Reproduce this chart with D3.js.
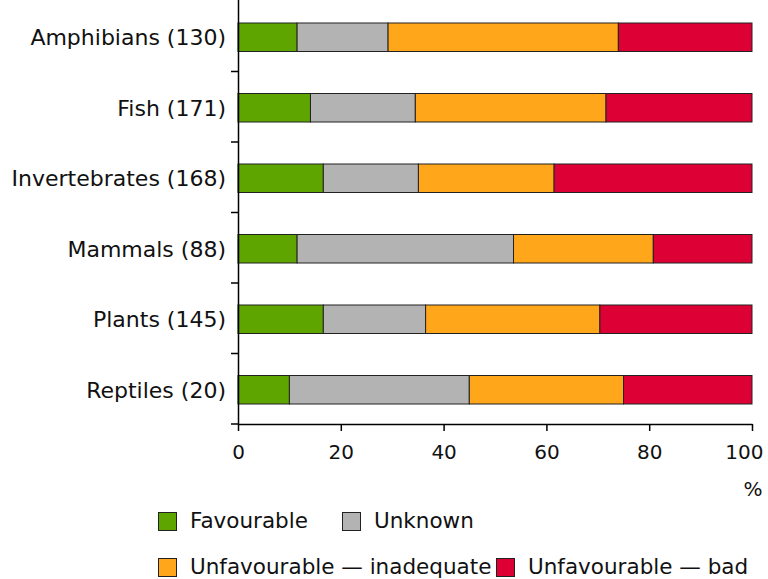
<!DOCTYPE html>
<html>
<head>
<meta charset="utf-8">
<script src="https://cdn.jsdelivr.net/npm/d3@7"></script>
<style>
  body { margin: 0; background: #fff; }
  svg { font-family: "DejaVu Sans", Verdana, sans-serif; }
</style>
</head>
<body>
<div id="chart"></div>
<script>
// categories and their values (%)
const groups = ["Amphibians (130)", "Fish (171)", "Invertebrates (168)", "Mammals (88)", "Plants (145)", "Reptiles (20)"];
const favourable = [11.5, 14.1, 16.6, 11.5, 16.6, 10.0];
const unknown = [17.7, 20.4, 18.5, 42.1, 19.9, 35.0];
const inadequate = [44.8, 37.1, 26.4, 27.2, 33.9, 30.0];
const bad = [26.0, 28.4, 38.5, 19.2, 29.6, 25.0];

const seriesNames = ["Favourable", "Unknown", "Unfavourable \u2014 inadequate", "Unfavourable \u2014 bad"];
const seriesColors = ["#5ea500", "#b3b3b3", "#ffa61a", "#dd0035"];
const xTicks = [0, 20, 40, 60, 80, 100];

let dimensions = {
    width: 768,
    height: 579,
    margin: { top: 1, right: 16, bottom: 155, left: 238 },
}
dimensions.boundedWidth = dimensions.width - dimensions.margin.left - dimensions.margin.right;
dimensions.boundedHeight = dimensions.height - dimensions.margin.top - dimensions.margin.bottom;

const rows = groups.map((g, i) => ({
    group: g,
    Favourable: favourable[i],
    Unknown: unknown[i],
    [seriesNames[2]]: inadequate[i],
    [seriesNames[3]]: bad[i],
}));

const stacked = d3.stack().keys(seriesNames)(rows);

const svg = d3.select("#chart")
    .append("svg")
    .attr("width", dimensions.width)
    .attr("height", dimensions.height);

const g = svg.append("g")
    .attr("transform", `translate(${dimensions.margin.left}, ${dimensions.margin.top})`);

const x = d3.scaleLinear()
    .domain([0, 100])
    .range([0, dimensions.boundedWidth]);

const y = d3.scaleBand()
    .domain(groups)
    .range([0, dimensions.boundedHeight])
    .padding(0);

const color = d3.scaleOrdinal().domain(seriesNames).range(seriesColors);

const barH = 28.5;
const barOff = (y.bandwidth() - barH) / 2 + 1;

// bars
g.append("g")
    .selectAll("g")
    .data(stacked)
    .join("g")
    .attr("fill", d => color(d.key))
    .selectAll("rect")
    .data(d => d)
    .join("rect")
    .attr("x", d => x(d[0]))
    .attr("y", d => y(d.data.group) + barOff)
    .attr("width", d => x(d[1]) - x(d[0]))
    .attr("height", barH)
    .attr("stroke", "#222")
    .attr("stroke-width", 1);

// y axis: line plus ticks at band boundaries
g.append("line")
    .attr("x1", 0.5).attr("x2", 0.5)
    .attr("y1", -1).attr("y2", dimensions.boundedHeight)
    .attr("stroke", "#000").attr("stroke-width", 1.5);

g.append("g")
    .selectAll("line")
    .data(groups)
    .join("line")
    .attr("x1", -7).attr("x2", 0)
    .attr("y1", d => y(d) + y.bandwidth())
    .attr("y2", d => y(d) + y.bandwidth())
    .attr("stroke", "#000").attr("stroke-width", 1.5);

g.append("g")
    .selectAll("text")
    .data(groups)
    .join("text")
    .attr("x", -12)
    .attr("y", d => y(d) + y.bandwidth() / 2 + 1)
    .attr("dy", "0.36em")
    .attr("text-anchor", "end")
    .style("font-size", "22px")
    .attr("fill", "#111")
    .text(d => d);

// x axis
const xAxis = g.append("g")
    .attr("transform", `translate(0, ${dimensions.boundedHeight})`)
    .call(d3.axisBottom(x).tickValues(xTicks).tickSize(7).tickSizeOuter(0).tickPadding(14));

xAxis.select(".domain").attr("stroke", "#000").attr("stroke-width", 1.5);
xAxis.selectAll(".tick line").attr("stroke", "#000").attr("stroke-width", 1.5);
xAxis.selectAll("text")
    .style("font-size", "20px")
    .style("font-family", "DejaVu Sans, sans-serif")
    .attr("fill", "#111");
// last label kept inside the frame
xAxis.selectAll(".tick").filter(d => d === 100).select("text")
    .attr("text-anchor", "end")
    .attr("dx", 11);

svg.append("text")
    .attr("x", 753)
    .attr("y", 496)
    .attr("text-anchor", "middle")
    .style("font-size", "20px")
    .attr("fill", "#111")
    .text("%");

// legend
const legendPos = [[158, 512], [342, 512], [158, 558], [496, 558]];
const legend = svg.append("g")
    .selectAll("g")
    .data(seriesNames)
    .join("g")
    .attr("transform", (d, i) => `translate(${legendPos[i][0]}, ${legendPos[i][1]})`);

legend.append("rect")
    .attr("x", 0.5).attr("y", 0.5)
    .attr("width", 18).attr("height", 18)
    .attr("fill", d => color(d))
    .attr("stroke", "#222");

legend.append("text")
    .attr("x", 32)
    .attr("y", 16)
    .style("font-size", "21.5px")
    .attr("fill", "#111")
    .text(d => d);
</script>
</body>
</html>
